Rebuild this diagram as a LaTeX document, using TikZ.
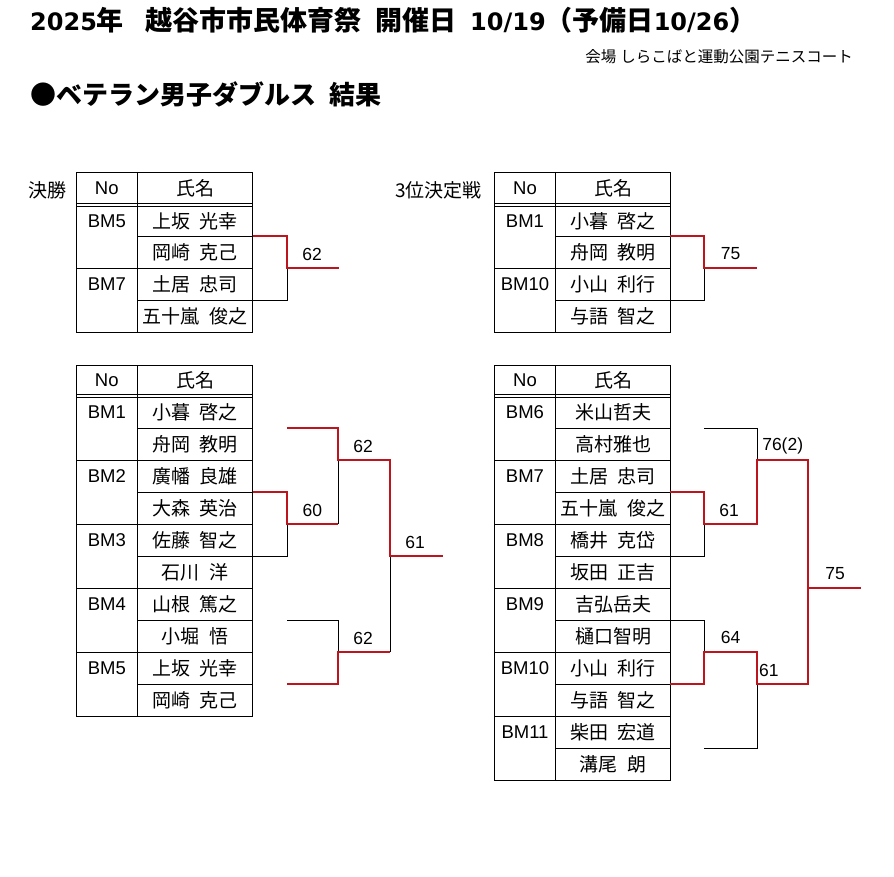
\documentclass[tikz,border=0pt]{standalone}
\usepackage{fontspec}
\setmainfont{Liberation Sans}
\newfontfamily\jp[WordSpace=2.2]{Noto Sans CJK JP}
\newfontfamily\lat{DejaVu Sans}
\definecolor{winred}{RGB}{190,20,30}
\begin{document}
\begin{tikzpicture}[x=1pt,y=-1pt,
    rule/.style={line width=0.9pt},
    win/.style={draw=winred,line width=2pt},
    lose/.style={draw=black,line width=0.9pt},
    nm/.style={font=\jp\fontsize{19}{19}\selectfont,inner sep=0pt},
    bm/.style={font=\fontsize{18.5}{18.5}\selectfont,inner sep=0pt},
    score/.style={font=\fontsize{17.5}{17.5}\selectfont,inner sep=0pt},
    roundlabel/.style={font=\jp\fontsize{19}{19}\selectfont,inner sep=0pt,anchor=west}]
  \path[use as bounding box,fill=white] (0,0) rectangle (894,877);

  % headings
  \node[anchor=base west,inner sep=0pt,font=\jp\bfseries\fontsize{27}{27}\selectfont] (title) at (30,31)
    {{\lat\bfseries\fontsize{24}{24}\selectfont 2025}年\hspace{22pt}越谷市市民体育祭 開催日 {\lat\bfseries\fontsize{24}{24}\selectfont 10/19}（予備日{\lat\bfseries\fontsize{24}{24}\selectfont 10/26}）};
  \node[anchor=base east,inner sep=0pt,font=\jp\fontsize{15.5}{15.5}\selectfont] (venue) at (853,63)
    {会場\hspace{4pt}しらこばと運動公園テニスコート};
  \node[anchor=base west,inner sep=0pt,font=\jp\bfseries\fontsize{26}{26}\selectfont] (event) at (30,105)
    {●ベテラン男子ダブルス 結果};

  % final
  \node[roundlabel] (fcap) at (28,190) {決勝};
  \draw[rule] (76,172) rectangle (252.5,332);
  \draw[rule] (137.5,172) -- (137.5,332);
  \draw[rule] (76,203.3) -- (252.5,203.3) (76,206) -- (252.5,206) (76,268) -- (252.5,268);
  \draw[rule] (137.5,236) -- (252.5,236) (137.5,300) -- (252.5,300);
  \node[bm] (fno) at (106.8,188) {No};
  \node[nm] (fnm) at (195,188) {氏名};
  \node[bm] (f5) at (106.8,221) {BM5};
  \node[nm] (f5a) at (195,221) {上坂 光幸};
  \node[nm] (f5b) at (195,252) {岡崎 克己};
  \node[bm] (f7) at (106.8,284) {BM7};
  \node[nm] (f7a) at (195,284) {土居 忠司};
  \node[nm] (f7b) at (195,316) {五十嵐 俊之};

  % third place
  \node[roundlabel] (tcap) at (395,190) {3位決定戦};
  \draw[rule] (494.5,172) rectangle (670,332);
  \draw[rule] (555.7,172) -- (555.7,332);
  \draw[rule] (494.5,203.3) -- (670,203.3) (494.5,206) -- (670,206) (494.5,268) -- (670,268);
  \draw[rule] (555.7,236) -- (670,236) (555.7,300) -- (670,300);
  \node[bm] (tno) at (525,188) {No};
  \node[nm] (tnm) at (613,188) {氏名};
  \node[bm] (t1) at (525,221) {BM1};
  \node[nm] (t1a) at (613,221) {小暮 啓之};
  \node[nm] (t1b) at (613,252) {舟岡 教明};
  \node[bm] (t10) at (525,284) {BM10};
  \node[nm] (t10a) at (613,284) {小山 利行};
  \node[nm] (t10b) at (613,316) {与語 智之};

  % draw left
  \draw[rule] (76,365) rectangle (252.5,716);
  \draw[rule] (137.5,365) -- (137.5,716);
  \draw[rule] (76,394.3) -- (252.5,394.3) (76,397) -- (252.5,397);
  \foreach \y in {460,524,588,652} \draw[rule] (76,\y) -- (252.5,\y);
  \foreach \y in {428,492,556,620,684} \draw[rule] (137.5,\y) -- (252.5,\y);
  \node[bm] (ano) at (106.8,380) {No};
  \node[nm] (anm) at (195,380) {氏名};
  \node[bm] (a1) at (106.8,412) {BM1};
  \node[nm] (a1a) at (195,412) {小暮 啓之};
  \node[nm] (a1b) at (195,444) {舟岡 教明};
  \node[bm] (a2) at (106.8,476) {BM2};
  \node[nm] (a2a) at (195,476) {廣幡 良雄};
  \node[nm] (a2b) at (195,508) {大森 英治};
  \node[bm] (a3) at (106.8,540) {BM3};
  \node[nm] (a3a) at (195,540) {佐藤 智之};
  \node[nm] (a3b) at (195,572) {石川 洋};
  \node[bm] (a4) at (106.8,604) {BM4};
  \node[nm] (a4a) at (195,604) {山根 篤之};
  \node[nm] (a4b) at (195,636) {小堀 悟};
  \node[bm] (a5) at (106.8,668) {BM5};
  \node[nm] (a5a) at (195,668) {上坂 光幸};
  \node[nm] (a5b) at (195,700) {岡崎 克己};

  % draw right
  \draw[rule] (494.5,365) rectangle (670,780);
  \draw[rule] (555.7,365) -- (555.7,780);
  \draw[rule] (494.5,394.3) -- (670,394.3) (494.5,397) -- (670,397);
  \foreach \y in {460,524,588,652,716} \draw[rule] (494.5,\y) -- (670,\y);
  \foreach \y in {428,492,556,620,684,748} \draw[rule] (555.7,\y) -- (670,\y);
  \node[bm] (bno) at (525,380) {No};
  \node[nm] (bnm) at (613,380) {氏名};
  \node[bm] (b6) at (525,412) {BM6};
  \node[nm] (b6a) at (613,412) {米山哲夫};
  \node[nm] (b6b) at (613,444) {高村雅也};
  \node[bm] (b7) at (525,476) {BM7};
  \node[nm] (b7a) at (613,476) {土居 忠司};
  \node[nm] (b7b) at (613,508) {五十嵐 俊之};
  \node[bm] (b8) at (525,540) {BM8};
  \node[nm] (b8a) at (613,540) {橋井 克岱};
  \node[nm] (b8b) at (613,572) {坂田 正吉};
  \node[bm] (b9) at (525,604) {BM9};
  \node[nm] (b9a) at (613,604) {吉弘岳夫};
  \node[nm] (b9b) at (613,636) {樋口智明};
  \node[bm] (b10) at (525,668) {BM10};
  \node[nm] (b10a) at (613,668) {小山 利行};
  \node[nm] (b10b) at (613,700) {与語 智之};
  \node[bm] (b11) at (525,732) {BM11};
  \node[nm] (b11a) at (613,732) {柴田 宏道};
  \node[nm] (b11b) at (613,764) {溝尾 朗};

  % brackets: final and third place
  \coordinate (fw) at (252.5,236);
  \coordinate (fl) at (252.5,300);
  \coordinate (fm) at (287,268);
  \coordinate (fo) at (339,268);
  \draw[lose] (fl) -| (fm);
  \draw[win] (fw) -| (fm) -- (fo);
  \node[score] (fs) at (312,254) {62};
  \coordinate (tw) at (670,236);
  \coordinate (tl) at (670,300);
  \coordinate (tm) at (704,268);
  \coordinate (to) at (757,268);
  \draw[lose] (tl) -| (tm);
  \draw[win] (tw) -| (tm) -- (to);
  \node[score] (ts) at (730.5,254) {75};

  % brackets: left draw
  \coordinate (la1) at (287,428);
  \coordinate (la2) at (252.5,492);
  \coordinate (la3) at (252.5,556);
  \coordinate (la4) at (287,620);
  \coordinate (la5) at (287,684);
  \coordinate (c23) at (287,524);
  \coordinate (c123) at (338,460);
  \coordinate (c45) at (338,652);
  \coordinate (cf) at (390,556);
  \coordinate (ce) at (443,556);
  \draw[lose] (la3) -| (c23);
  \draw[lose] (c23 -| c123) -- (c123);
  \draw[lose] (la4) -| (c45);
  \draw[lose] (c45 -| cf) -- (cf);
  \draw[win] (la2) -| (c23) -- (c23 -| c123);
  \draw[win] (la1) -| (c123) -- (c123 -| cf) -- (cf) -- (ce);
  \draw[win] (la5) -| (c45) -- (c45 -| cf);
  \node[score] (s23) at (312.3,510) {60};
  \node[score] (s123) at (363,446) {62};
  \node[score] (s45) at (363,638) {62};
  \node[score] (sf) at (415,542) {61};

  % brackets: right draw
  \coordinate (rb6) at (704,428);
  \coordinate (rb7) at (670,492);
  \coordinate (rb8) at (670,556);
  \coordinate (rb9) at (670,620);
  \coordinate (rb10) at (670,684);
  \coordinate (rb11) at (704,748);
  \coordinate (d78) at (704,524);
  \coordinate (d678) at (757,460);
  \coordinate (d910) at (704,652);
  \coordinate (d911) at (757,684);
  \coordinate (df) at (808,588);
  \coordinate (de) at (861,588);
  \draw[lose] (rb6) -| (d678);
  \draw[lose] (rb8) -| (d78);
  \draw[lose] (rb9) -| (d910);
  \draw[lose] (rb11) -| (d911);
  \draw[win] (rb7) -| (d78) -| (d678) -- (d678 -| df) -- (df) -- (de);
  \draw[win] (rb10) -| (d910) -| (d911) -| (df);
  \node[score] (s78) at (729,510) {61};
  \node[score] (s678) at (782.7,446) {76(2)};
  \node[score] (s910) at (730.7,637.5) {64};
  \node[score,anchor=west] (s911) at (759,670) {61};
  \node[score] (sfin) at (835,574) {75};
\end{tikzpicture}
\end{document}
